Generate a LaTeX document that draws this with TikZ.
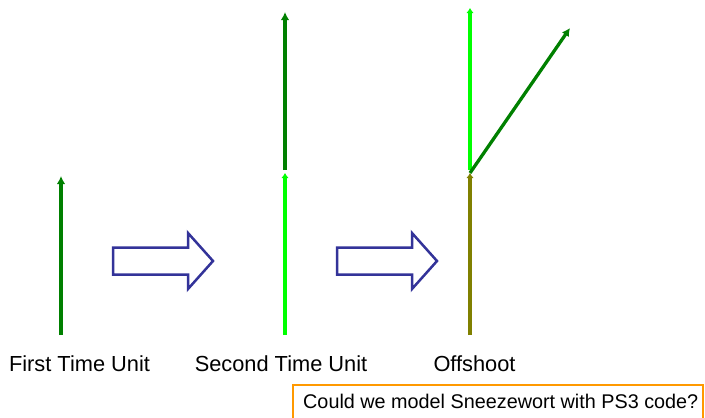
\documentclass[tikz,border=0pt]{standalone}
\usepackage{fontspec}
\setmainfont{Liberation Sans}
\usetikzlibrary{arrows.meta}
\definecolor{stemdark}{RGB}{0,128,0}
\definecolor{stemlight}{RGB}{0,255,0}
\definecolor{stemold}{RGB}{128,128,0}
\definecolor{blocknavy}{RGB}{51,51,153}
\definecolor{noteorange}{RGB}{255,153,0}
\tikzset{
  newstem/.style={draw=stemdark, line width=3.3pt, -{Latex[length=8pt,width=8.5pt]}},
  midstem/.style={draw=stemlight, line width=3.3pt, -{Latex[length=5pt,width=7.5pt]}},
  oldstem/.style={draw=stemold, line width=3.3pt, -{Latex[length=5pt,width=7.5pt]}},
  blockarrow/.style={draw=blocknavy, line width=2.5pt, fill=white, line join=miter},
  caption/.style={font=\fontsize{21.8}{24}\selectfont, anchor=base, inner sep=0pt},
  note/.style={font=\fontsize{19.8}{22}\selectfont, anchor=base west, inner sep=0pt},
  pics/growarrow/.style={code={
    \draw[blockarrow] (0,-13.5) -- (75,-13.5) -- (75,-28) -- (100,0)
      -- (75,28) -- (75,13.5) -- (0,13.5) -- cycle;
  }}
}
\begin{document}
\begin{tikzpicture}[x=1pt,y=-1pt]
  \useasboundingbox (0,0) rectangle (705,418);
  \clip (0,0) rectangle (705,418);

  % first time unit: a single new segment
  \coordinate (a0) at (61,335);
  \coordinate (a1) at (61,176);
  \draw[newstem] (a0) -- (a1);

  % second time unit: old segment plus a new one on top
  \coordinate (b0) at (285,335);
  \coordinate (b1) at (285,173);
  \coordinate (b2) at (285,170);
  \coordinate (b3) at (285,12);
  \draw[midstem] (b0) -- (b1);
  \draw[newstem] (b2) -- (b3);

  % offshoot: a side branch grows from the joint
  \coordinate (c0) at (470,335);
  \coordinate (c1) at (470,173);
  \coordinate (c2) at (470,170);
  \coordinate (c3) at (470,8);
  \coordinate (c4) at (570,28);
  \draw[oldstem] (c0) -- (c1);
  \draw[midstem] (c2) -- (c3);
  \draw[newstem] (c1) -- (c4);

  % transitions
  \pic at (113,261) {growarrow};
  \pic at (337,261) {growarrow};

  % captions
  \node[caption] (capA) at (79.5,371) {First Time Unit};
  \node[caption] (capB) at (281,371) {Second Time Unit};
  \node[caption] (capC) at (474.5,371) {Offshoot};

  % question box
  \draw[noteorange, line width=2pt, fill=white] (293,385) rectangle (703,430);
  \node[note] (question) at (303,408) {Could we model Sneezewort with PS3 code?};
\end{tikzpicture}
\end{document}
